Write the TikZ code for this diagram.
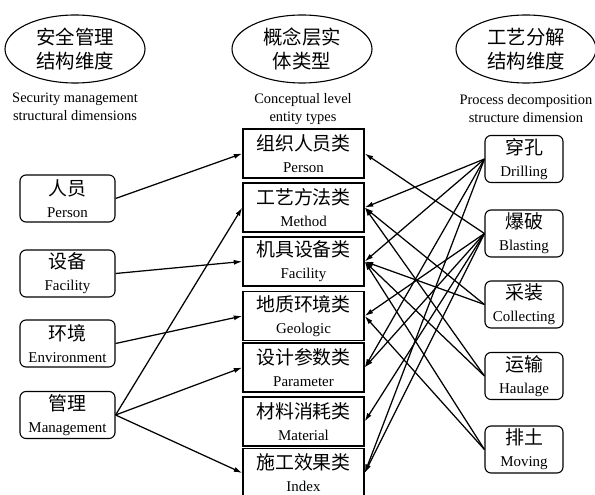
\documentclass[tikz,border=0pt]{standalone}
\usepackage{fontspec}
\setmainfont{Liberation Serif}
\newfontfamily\cjk{Noto Sans CJK SC}
\usetikzlibrary{arrows.meta,shapes.geometric}
\newcommand\twol[2]{{\cjk\fontsize{19}{22}\selectfont #1}\\{\fontsize{15}{22}\selectfont #2}}
\begin{document}
\begin{tikzpicture}[x=1bp,y=-1bp,
  ell/.style={draw,line width=1.1bp,ellipse,minimum width=140bp,minimum height=68bp,inner sep=0pt,align=center,font=\cjk\fontsize{19.5}{24}\selectfont},
  sub/.style={align=center,inner sep=0pt,font=\fontsize{14.5}{18}\selectfont},
  mbox/.style={draw,line width=1.4bp,minimum width=121bp,minimum height=49bp,inner sep=0pt,align=center,font=\fontsize{15}{22}\selectfont},
  sbox/.style={draw,line width=1.1bp,rounded corners=6bp,minimum height=47bp,inner sep=0pt,align=center,font=\fontsize{15}{22}\selectfont},
  arr/.style={line width=1.25bp,-{Latex[length=8.5bp,width=5bp]}}]
\useasboundingbox (0,0) rectangle (595,495);
% headers
\node[ell] (e1) at (75,49) {安全管理\\结构维度};
\node[ell] (e2) at (302,49) {概念层实\\体类型};
\node[ell] (e3) at (526,49) {工艺分解\\结构维度};
\node[sub] (s1) at (75,107) {Security management\\structural dimensions};
\node[sub] (s2) at (303,109) {Conceptual level\\entity types};
\node[sub] (s3) at (526,109) {Process decomposition\\structure dimension};
% middle boxes
\node[mbox] (m1) at (303.5,153.5) {\twol{组织人员类}{Person}};
\node[mbox] (m2) at (303.5,207.5) {\twol{工艺方法类}{Method}};
\node[mbox] (m3) at (303.5,261.5) {\twol{机具设备类}{Facility}};
\node[mbox] (m4) at (303.5,316) {\twol{地质环境类}{Geologic}};
\node[mbox] (m5) at (303.5,367.5) {\twol{设计参数类}{Parameter}};
\node[mbox] (m6) at (303.5,421.5) {\twol{材料消耗类}{Material}};
\node[mbox] (m7) at (303.5,473) {\twol{施工效果类}{Index}};
% left boxes
\node[sbox,minimum width=95bp] (l1) at (67.5,198.5) {\twol{人员}{Person}};
\node[sbox,minimum width=95bp] (l2) at (67.5,273.5) {\twol{设备}{Facility}};
\node[sbox,minimum width=95bp] (l3) at (67.5,343.5) {\twol{环境}{Environment}};
\node[sbox,minimum width=95bp] (l4) at (67.5,415) {\twol{管理}{Management}};
% right boxes
\node[sbox,minimum width=78bp] (r1) at (524,159) {\twol{穿孔}{Drilling}};
\node[sbox,minimum width=78bp] (r2) at (524,233.5) {\twol{爆破}{Blasting}};
\node[sbox,minimum width=78bp] (r3) at (524,304.5) {\twol{采装}{Collecting}};
\node[sbox,minimum width=78bp] (r4) at (524,376) {\twol{运输}{Haulage}};
\node[sbox,minimum width=78bp] (r5) at (524,449.5) {\twol{排土}{Moving}};
% left arrows
\draw[arr] (l1.east) -- (m1.west);
\draw[arr] (l2.east) -- (m3.west);
\draw[arr] (l3.east) -- (m4.west);
\draw[arr] (l4.east) -- (m2.west);
\draw[arr] (l4.east) -- (m5.west);
\draw[arr] (l4.east) -- (m7.west);
% right arrows
\draw[arr] (r1.west) -- (m2.east);
\draw[arr] (r1.west) -- (m3.east);
\draw[arr] (r1.west) -- (m5.east);
\draw[arr] (r1.west) -- (m7.east);
\draw[arr] (r2.west) -- (m1.east);
\draw[arr] (r2.west) -- (m4.east);
\draw[arr] (r2.west) -- (m5.east);
\draw[arr] (r2.west) -- (m6.east);
\draw[arr] (r2.west) -- (m7.east);
\draw[arr] (r3.west) -- (m2.east);
\draw[arr] (r3.west) -- (m3.east);
\draw[arr] (r4.west) -- (m2.east);
\draw[arr] (r4.west) -- (m3.east);
\draw[arr] (r5.west) -- (m3.east);
\draw[arr] (r5.west) -- (m4.east);
\end{tikzpicture}
\end{document}
